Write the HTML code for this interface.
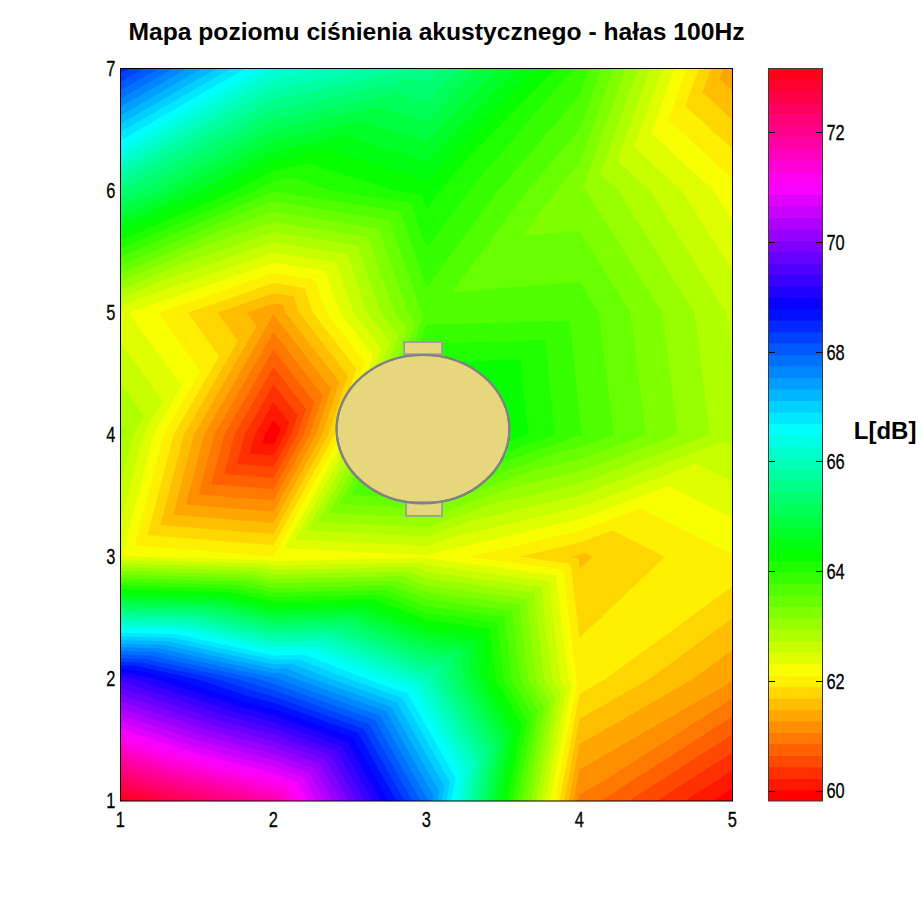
<!DOCTYPE html>
<html lang="pl">
<head>
<meta charset="utf-8">
<title>Mapa poziomu ciśnienia akustycznego - hałas 100Hz</title>
<style>
html,body{margin:0;padding:0;background:#fff;}
body{width:924px;height:900px;overflow:hidden;}
svg{display:block;}
text{font-family:"Liberation Sans",sans-serif;fill:#000;}
.tick{font-size:22.8px;stroke:#000;stroke-width:0.3px;}
.bold{font-weight:bold;font-size:23px;}
</style>
</head>
<body>
<svg width="924" height="900" viewBox="0 0 924 900">
<rect x="0" y="0" width="924" height="900" fill="#ffffff"/>
<text class="bold" x="128.5" y="39.7" textLength="616" lengthAdjust="spacingAndGlyphs">Mapa poziomu ciśnienia akustycznego - hałas 100Hz</text>
<rect x="120.5" y="68.5" width="612.0" height="732.5" fill="#ff0000"/>
<g fill-rule="evenodd" shape-rendering="geometricPrecision">
<path fill="#ff1800" d="M712.6,801.0L732.5,788.2L732.5,678.9L732.5,556.8L732.5,434.8L732.5,312.7L732.5,190.6L732.5,68.5L579.5,68.5L426.5,68.5L273.5,68.5L120.5,68.5L120.5,190.6L120.5,312.7L120.5,434.8L120.5,556.8L120.5,678.9L120.5,801.0L273.5,801.0L426.5,801.0L579.5,801.0ZM262.6,443.5L264.8,434.8L273.5,419.7L280.7,429.0L278.8,434.8L273.5,444.4Z"/>
<path fill="#ff3000" d="M684.6,801.0L732.5,770.3L732.5,678.9L732.5,556.8L732.5,434.8L732.5,312.7L732.5,190.6L732.5,68.5L579.5,68.5L426.5,68.5L273.5,68.5L120.5,68.5L120.5,190.6L120.5,312.7L120.5,434.8L120.5,556.8L120.5,678.9L120.5,801.0L273.5,801.0L426.5,801.0L579.5,801.0ZM249.8,453.7L254.7,434.8L273.5,402.2L289.1,422.3L285.0,434.8L273.5,455.6Z"/>
<path fill="#ff4800" d="M656.6,801.0L732.5,752.4L732.5,678.9L732.5,556.8L732.5,434.8L732.5,312.7L732.5,190.6L732.5,68.5L579.5,68.5L426.5,68.5L273.5,68.5L120.5,68.5L120.5,190.6L120.5,312.7L120.5,434.8L120.5,556.8L120.5,678.9L120.5,801.0L273.5,801.0L426.5,801.0L579.5,801.0ZM237.0,463.8L244.6,434.8L273.5,384.6L297.5,415.6L291.2,434.8L273.5,466.8Z"/>
<path fill="#ff6000" d="M628.6,801.0L732.5,734.4L732.5,678.9L732.5,556.8L732.5,434.8L732.5,312.7L732.5,190.6L732.5,68.5L579.5,68.5L426.5,68.5L273.5,68.5L120.5,68.5L120.5,190.6L120.5,312.7L120.5,434.8L120.5,556.8L120.5,678.9L120.5,801.0L273.5,801.0L426.5,801.0L579.5,801.0ZM224.3,474.0L234.4,434.8L273.5,367.0L305.9,408.9L297.4,434.8L273.5,478.0Z"/>
<path fill="#ff7800" d="M600.6,801.0L732.5,716.5L732.5,678.9L732.5,556.8L732.5,434.8L732.5,312.7L732.5,190.6L732.5,68.5L579.5,68.5L426.5,68.5L273.5,68.5L120.5,68.5L120.5,190.6L120.5,312.7L120.5,434.8L120.5,556.8L120.5,678.9L120.5,801.0L273.5,801.0L426.5,801.0L579.5,801.0ZM211.5,484.2L224.3,434.8L273.5,349.5L314.3,402.2L303.6,434.8L273.5,489.2Z"/>
<path fill="#ff8f00" d="M578.3,801.0L579.5,794.8L607.7,778.5L732.5,698.6L732.5,678.9L732.5,556.8L732.5,434.8L732.5,312.7L732.5,190.6L732.5,68.5L579.5,68.5L426.5,68.5L273.5,68.5L120.5,68.5L120.5,190.6L120.5,312.7L120.5,434.8L120.5,556.8L120.5,678.9L120.5,801.0L273.5,801.0L426.5,801.0ZM198.7,494.4L214.2,434.8L273.5,331.9L322.7,395.5L309.8,434.8L273.5,500.4Z"/>
<path fill="#ffa700" d="M573.6,801.0L579.5,769.6L721.7,687.6L732.5,680.6L732.5,678.9L732.5,556.8L732.5,434.8L732.5,312.7L732.5,190.6L732.5,68.5L579.5,68.5L426.5,68.5L273.5,68.5L120.5,68.5L120.5,190.6L120.5,312.7L120.5,434.8L120.5,556.8L120.5,678.9L120.5,801.0L273.5,801.0L426.5,801.0ZM186.0,504.6L204.0,434.8L273.5,314.3L331.1,388.8L316.0,434.8L273.5,511.7Z"/>
<path fill="#ffbf00" d="M568.9,801.0L579.5,744.3L692.9,678.9L732.5,650.1L732.5,556.8L732.5,434.8L732.5,312.7L732.5,190.6L732.5,90.8L719.5,78.9L723.2,68.5L579.5,68.5L426.5,68.5L273.5,68.5L120.5,68.5L120.5,190.6L120.5,312.7L120.5,434.8L120.5,556.8L120.5,678.9L120.5,801.0L273.5,801.0L426.5,801.0ZM173.2,514.8L193.9,434.8L256.5,326.2L246.8,312.7L273.5,303.4L283.1,305.0L285.8,312.7L339.5,382.1L322.2,434.8L273.5,522.9Z"/>
<path fill="#ffd700" d="M564.2,801.0L579.5,719.1L649.2,678.9L732.5,618.3L732.5,556.8L732.5,434.8L732.5,312.7L732.5,190.6L732.5,120.0L702.4,92.5L711.0,68.5L579.5,68.5L426.5,68.5L273.5,68.5L120.5,68.5L120.5,190.6L120.5,312.7L120.5,434.8L120.5,556.8L120.5,678.9L120.5,801.0L273.5,801.0L426.5,801.0ZM578.2,557.9L570.4,556.8L579.5,554.7L584.5,552.8L592.5,556.8L579.5,569.2ZM160.4,525.0L183.8,434.8L237.7,341.2L217.2,312.7L273.5,293.3L293.8,296.5L299.4,312.7L347.9,375.4L328.4,434.8L273.5,534.1Z"/>
<path fill="#ffef00" d="M559.5,801.0L579.5,693.9L605.5,678.9L732.5,586.4L732.5,556.8L732.5,434.8L732.5,312.7L732.5,190.6L732.5,149.3L685.4,106.1L698.9,68.5L579.5,68.5L426.5,68.5L273.5,68.5L120.5,68.5L120.5,190.6L120.5,312.7L120.5,434.8L120.5,556.8L120.5,678.9L120.5,801.0L273.5,801.0L426.5,801.0ZM570.8,563.8L519.8,556.8L579.5,542.8L612.5,530.5L665.0,556.8L579.5,638.0ZM147.7,535.1L173.6,434.8L219.0,356.2L187.7,312.7L273.5,283.1L304.4,288.0L313.0,312.7L356.3,368.7L334.6,434.8L273.5,545.3Z"/>
<path fill="#f7ff00" d="M554.8,801.0L577.3,680.7L576.2,678.9L563.5,569.6L469.1,556.8L579.5,530.9L640.5,508.2L732.5,554.3L732.5,434.8L732.5,312.7L732.5,190.6L732.5,178.6L668.3,119.7L686.7,68.5L579.5,68.5L426.5,68.5L273.5,68.5L120.5,68.5L120.5,190.6L120.5,312.7L120.5,434.8L120.5,556.8L120.5,678.9L120.5,801.0L273.5,801.0L426.5,801.0ZM134.9,545.3L163.5,434.8L200.2,371.2L158.1,312.7L273.5,272.9L315.0,279.5L326.5,312.7L364.7,362.0L340.8,434.8L273.5,556.5Z"/>
<path fill="#dfff00" d="M550.1,801.0L571.7,685.1L568.2,678.9L556.1,575.5L426.5,557.9L425.6,557.6L273.5,561.2L269.2,560.3L138.4,556.8L122.1,555.5L153.4,434.8L181.4,386.1L128.6,312.7L273.5,262.7L325.7,271.0L340.1,312.7L373.1,355.3L347.0,434.8L284.3,548.2L426.5,555.3L429.9,554.2L579.5,519.0L668.5,485.8L732.5,517.9L732.5,434.8L732.5,312.7L732.5,220.6L719.9,200.6L713.7,190.6L651.2,133.3L674.5,68.5L579.5,68.5L426.5,68.5L273.5,68.5L120.5,68.5L120.5,190.6L120.5,312.7L120.5,434.8L120.5,556.8L120.5,678.9L120.5,801.0L273.5,801.0L426.5,801.0Z"/>
<path fill="#c7ff00" d="M545.4,801.0L566.2,689.5L560.2,678.9L548.8,581.4L426.5,564.8L419.8,562.2L273.5,565.7L264.8,563.8L120.5,560.0L120.5,678.9L120.5,801.0L273.5,801.0L426.5,801.0ZM732.5,271.6L698.7,217.6L681.7,190.6L634.2,147.0L662.3,68.5L579.5,68.5L426.5,68.5L273.5,68.5L120.5,68.5L120.5,190.6L120.5,306.6L136.8,299.6L273.5,252.5L336.3,262.5L353.7,312.7L381.5,348.6L353.2,434.8L295.4,539.4L426.5,545.9L451.0,537.3L579.5,507.1L696.5,463.5L732.5,481.5L732.5,434.8L732.5,312.7ZM120.5,522.7L143.2,434.8L162.6,401.1L120.5,342.5L120.5,434.8Z"/>
<path fill="#afff00" d="M540.7,801.0L560.7,693.9L552.1,678.9L541.4,587.2L426.5,571.7L414.0,566.8L273.5,570.2L260.4,567.3L120.5,563.6L120.5,678.9L120.5,801.0L273.5,801.0L426.5,801.0ZM732.5,361.9L726.9,317.1L726.3,312.7L677.4,234.6L649.8,190.6L617.1,160.6L650.1,68.5L579.5,68.5L426.5,68.5L273.5,68.5L120.5,68.5L120.5,190.6L120.5,298.3L159.3,281.7L273.5,242.3L347.0,254.1L367.3,312.7L389.9,341.9L359.4,434.8L306.5,530.5L426.5,536.5L472.1,520.4L579.5,495.2L724.5,441.1L732.5,445.2L732.5,434.8ZM120.5,483.5L133.1,434.8L143.9,416.1L120.5,383.6L120.5,434.8Z"/>
<path fill="#97ff00" d="M536.0,801.0L555.1,698.4L544.1,678.9L534.1,593.1L426.5,578.5L408.2,571.4L273.5,574.6L256.0,570.8L120.5,567.3L120.5,678.9L120.5,801.0L273.5,801.0L426.5,801.0ZM120.5,290.0L181.8,263.8L273.5,232.1L357.6,245.6L380.9,312.7L398.3,335.2L365.6,434.8L317.5,521.7L426.5,527.2L493.3,503.6L579.5,483.3L709.7,434.8L697.9,340.3L694.4,312.7L656.1,251.5L617.9,190.6L600.0,174.2L638.0,68.5L579.5,68.5L426.5,68.5L273.5,68.5L120.5,68.5L120.5,190.6ZM120.5,444.3L123.0,434.8L125.1,431.1L120.5,424.7L120.5,434.8Z"/>
<path fill="#80ff00" d="M531.3,801.0L549.6,702.8L536.0,678.9L526.7,599.0L426.5,585.4L402.4,576.1L273.5,579.1L251.5,574.4L120.5,570.9L120.5,678.9L120.5,801.0L273.5,801.0L426.5,801.0ZM120.5,281.7L204.3,245.8L273.5,222.0L368.2,237.1L394.4,312.7L406.7,328.5L371.8,434.8L328.6,512.9L426.5,517.8L514.4,486.7L579.5,471.4L677.8,434.8L668.9,363.4L662.5,312.7L634.8,268.5L586.0,190.6L583.0,187.8L625.8,68.5L579.5,68.5L426.5,68.5L273.5,68.5L120.5,68.5L120.5,190.6Z"/>
<path fill="#68ff00" d="M526.6,801.0L544.1,707.2L528.0,678.9L519.4,604.8L426.5,592.2L396.6,580.7L273.5,583.6L247.1,577.9L120.5,574.6L120.5,678.9L120.5,801.0L273.5,801.0L426.5,801.0ZM120.5,273.5L226.7,227.9L273.5,211.8L378.9,228.6L408.0,312.7L415.1,321.8L378.0,434.8L339.7,504.0L426.5,508.4L535.5,469.8L579.5,459.5L645.9,434.8L639.9,386.6L630.6,312.7L613.6,285.5L579.5,231.1L523.0,235.6L556.4,190.6L579.5,163.5L613.6,68.5L579.5,68.5L426.5,68.5L273.5,68.5L120.5,68.5L120.5,190.6Z"/>
<path fill="#50ff00" d="M521.8,801.0L538.5,711.6L520.0,678.9L512.0,610.7L426.5,599.1L390.8,585.3L273.5,588.1L242.7,581.4L120.5,578.2L120.5,678.9L120.5,801.0L273.5,801.0L426.5,801.0ZM120.5,265.2L249.2,210.0L273.5,201.6L389.5,220.1L421.6,312.7L423.5,315.1L384.2,434.8L350.8,495.2L426.5,499.0L556.7,453.0L579.5,447.6L614.0,434.8L610.8,409.7L598.7,312.7L592.3,302.5L579.5,282.1L452.1,292.2L527.4,190.6L579.5,129.6L601.4,68.5L579.5,68.5L426.5,68.5L273.5,68.5L120.5,68.5L120.5,190.6Z"/>
<path fill="#38ff00" d="M517.1,801.0L533.0,716.0L511.9,678.9L504.6,616.6L426.5,606.0L385.0,589.9L273.5,592.6L238.3,584.9L120.5,581.8L120.5,678.9L120.5,801.0L273.5,801.0L426.5,801.0ZM120.5,256.9L271.7,192.0L273.5,191.4L400.1,211.6L426.5,287.6L498.4,190.6L579.5,95.6L589.2,68.5L579.5,68.5L426.5,68.5L273.5,68.5L120.5,68.5L120.5,190.6ZM426.5,489.6L577.8,436.1L579.5,435.7L582.1,434.8L581.8,432.9L579.5,414.3L569.7,320.5L426.5,324.7L390.4,434.8L361.9,486.3Z"/>
<path fill="#20ff00" d="M512.4,801.0L527.5,720.4L503.9,678.9L497.3,622.4L426.5,612.8L379.2,594.5L273.5,597.1L233.9,588.4L120.5,585.5L120.5,678.9L120.5,801.0L273.5,801.0L426.5,801.0ZM120.5,248.6L255.7,190.6L273.5,181.2L289.8,177.6L332.2,190.6L410.8,203.1L426.5,248.5L469.4,190.6L561.2,83.1L575.6,68.5L426.5,68.5L273.5,68.5L120.5,68.5L120.5,190.6ZM426.5,480.2L555.0,434.8L545.1,340.1L426.5,343.6L396.5,434.8L372.9,477.5Z"/>
<path fill="#08ff00" d="M507.7,801.0L521.9,724.8L495.9,678.9L489.9,628.3L426.5,619.7L373.5,599.2L273.5,601.5L229.5,592.0L120.5,589.1L120.5,678.9L120.5,801.0L273.5,801.0L426.5,801.0ZM120.5,240.3L236.4,190.6L273.5,171.0L307.5,163.4L396.0,190.6L421.4,194.6L426.5,209.3L440.3,190.6L470.0,155.9L556.3,68.5L426.5,68.5L273.5,68.5L120.5,68.5L120.5,190.6ZM426.5,470.8L528.4,434.8L520.6,359.7L426.5,362.4L402.7,434.8L384.0,468.6Z"/>
<path fill="#00ff10" d="M503.0,801.0L516.4,729.3L487.8,678.9L482.6,634.2L426.5,626.6L367.7,603.8L273.5,606.0L225.1,595.5L120.5,592.7L120.5,678.9L120.5,801.0L273.5,801.0L426.5,801.0ZM120.5,232.0L217.0,190.6L273.5,160.8L325.3,149.3L426.5,180.3L536.9,68.5L426.5,68.5L273.5,68.5L120.5,68.5L120.5,190.6ZM426.5,461.4L501.8,434.8L496.0,379.3L426.5,381.3L408.9,434.8L395.1,459.8Z"/>
<path fill="#00ff28" d="M498.3,801.0L510.9,733.7L479.8,678.9L475.2,640.0L426.5,633.4L361.9,608.4L273.5,610.5L220.6,599.0L120.5,596.4L120.5,678.9L120.5,801.0L273.5,801.0L426.5,801.0ZM120.5,223.7L197.7,190.6L273.5,150.7L343.0,135.1L426.5,160.8L517.6,68.5L426.5,68.5L273.5,68.5L120.5,68.5L120.5,190.6ZM426.5,452.0L475.2,434.8L471.5,398.8L426.5,400.2L415.1,434.8L406.2,451.0Z"/>
<path fill="#00ff40" d="M493.6,801.0L505.4,738.1L471.7,678.9L467.9,645.9L426.5,640.3L356.1,613.0L273.5,615.0L216.2,602.5L120.5,600.0L120.5,678.9L120.5,801.0L273.5,801.0L426.5,801.0ZM120.5,215.4L178.3,190.6L273.5,140.5L360.7,121.0L426.5,141.2L498.2,68.5L426.5,68.5L273.5,68.5L120.5,68.5L120.5,190.6ZM426.5,442.6L448.7,434.8L446.9,418.4L426.5,419.0L421.3,434.8L417.3,442.1Z"/>
<path fill="#00ff58" d="M488.9,801.0L499.8,742.5L463.7,678.9L460.5,651.8L426.5,647.2L350.3,617.6L273.5,619.5L211.8,606.1L120.5,603.7L120.5,678.9L120.5,801.0L273.5,801.0L426.5,801.0ZM120.5,207.1L159.0,190.6L273.5,130.3L378.5,106.8L426.5,121.6L478.9,68.5L426.5,68.5L273.5,68.5L120.5,68.5L120.5,190.6Z"/>
<path fill="#00ff70" d="M484.2,801.0L494.3,746.9L455.7,678.9L453.2,657.6L426.5,654.0L344.5,622.3L273.5,624.0L207.4,609.6L120.5,607.3L120.5,678.9L120.5,801.0L273.5,801.0L426.5,801.0ZM120.5,198.8L139.7,190.6L273.5,120.1L396.2,92.7L426.5,102.0L459.6,68.5L426.5,68.5L273.5,68.5L120.5,68.5L120.5,190.6Z"/>
<path fill="#00ff87" d="M479.5,801.0L488.8,751.3L447.6,678.9L445.8,663.5L426.5,660.9L338.7,626.9L273.5,628.5L203.0,613.1L120.5,610.9L120.5,678.9L120.5,801.0L273.5,801.0L426.5,801.0ZM120.5,190.5L120.9,190.3L273.5,109.9L413.9,78.5L426.5,82.4L440.2,68.5L426.5,68.5L273.5,68.5L120.5,68.5Z"/>
<path fill="#00ff9f" d="M474.8,801.0L483.2,755.7L439.6,678.9L438.5,669.4L426.5,667.7L332.9,631.5L273.5,632.9L198.6,616.6L120.5,614.6L120.5,678.9L120.5,801.0L273.5,801.0L426.5,801.0ZM120.5,182.2L158.4,160.3L273.5,99.7L413.2,68.5L273.5,68.5L120.5,68.5Z"/>
<path fill="#00ffb7" d="M470.1,801.0L477.7,760.1L431.5,678.9L431.1,675.2L426.5,674.6L327.1,636.1L273.5,637.4L194.2,620.1L120.5,618.2L120.5,678.9L120.5,801.0L273.5,801.0L426.5,801.0ZM120.5,173.8L196.0,130.4L273.5,89.5L367.7,68.5L273.5,68.5L120.5,68.5Z"/>
<path fill="#00ffcf" d="M465.4,801.0L472.2,764.6L426.5,684.2L424.4,680.6L419.9,678.9L321.3,640.8L273.5,641.9L189.7,623.7L120.5,621.8L120.5,678.9L120.5,801.0L273.5,801.0L426.5,801.0ZM120.5,165.5L233.5,100.4L273.5,79.4L322.1,68.5L273.5,68.5L120.5,68.5Z"/>
<path fill="#00ffe7" d="M460.7,801.0L466.6,769.0L426.5,698.3L418.9,684.9L402.2,678.9L315.5,645.4L273.5,646.4L185.3,627.2L120.5,625.5L120.5,678.9L120.5,801.0L273.5,801.0L426.5,801.0ZM120.5,157.1L271.1,70.5L273.5,69.2L276.5,68.5L273.5,68.5L120.5,68.5Z"/>
<path fill="#00ffff" d="M455.9,801.0L461.1,773.4L426.5,712.5L413.4,689.3L384.4,678.9L309.7,650.0L273.5,650.9L180.9,630.7L120.5,629.1L120.5,678.9L120.5,801.0L273.5,801.0L426.5,801.0ZM120.5,148.8L259.9,68.5L120.5,68.5Z"/>
<path fill="#00e7ff" d="M451.2,801.0L455.6,777.8L426.5,726.6L407.9,693.7L366.7,678.9L303.9,654.6L273.5,655.4L176.5,634.2L120.5,632.8L120.5,678.9L120.5,801.0L273.5,801.0L426.5,801.0ZM120.5,140.4L245.4,68.5L120.5,68.5Z"/>
<path fill="#00cfff" d="M446.5,801.0L450.0,782.2L426.5,740.8L402.4,698.1L349.0,678.9L298.2,659.2L273.5,659.8L172.1,637.8L120.5,636.4L120.5,678.9L120.5,801.0L273.5,801.0L426.5,801.0ZM120.5,132.1L230.9,68.5L120.5,68.5Z"/>
<path fill="#00b7ff" d="M441.8,801.0L444.5,786.6L426.5,754.9L396.9,702.5L331.2,678.9L292.4,663.9L273.5,664.3L167.7,641.3L120.5,640.0L120.5,678.9L120.5,801.0L273.5,801.0L426.5,801.0ZM120.5,123.7L216.4,68.5L120.5,68.5Z"/>
<path fill="#009fff" d="M437.1,801.0L439.0,791.0L426.5,769.1L391.4,706.9L313.5,678.9L286.6,668.5L273.5,668.8L163.3,644.8L120.5,643.7L120.5,678.9L120.5,801.0L273.5,801.0L426.5,801.0ZM120.5,115.4L201.9,68.5L120.5,68.5Z"/>
<path fill="#0087ff" d="M432.4,801.0L433.4,795.5L426.5,783.2L385.9,711.3L295.8,678.9L280.8,673.1L273.5,673.3L158.8,648.3L120.5,647.3L120.5,678.9L120.5,801.0L273.5,801.0L426.5,801.0ZM120.5,107.0L187.4,68.5L120.5,68.5Z"/>
<path fill="#0070ff" d="M427.7,801.0L427.9,799.9L426.5,797.4L380.4,715.7L278.0,678.9L275.0,677.7L273.5,677.8L154.4,651.8L120.5,651.0L120.5,678.9L120.5,801.0L273.5,801.0L426.5,801.0ZM120.5,98.7L172.9,68.5L120.5,68.5Z"/>
<path fill="#0058ff" d="M420.6,801.0L374.9,720.1L273.5,683.7L269.0,682.5L258.2,678.9L150.0,655.4L120.5,654.6L120.5,678.9L120.5,801.0L273.5,801.0ZM120.5,90.3L158.4,68.5L120.5,68.5Z"/>
<path fill="#0040ff" d="M412.6,801.0L369.4,724.5L273.5,690.0L263.0,687.3L237.6,678.9L145.6,658.9L120.5,658.2L120.5,678.9L120.5,801.0L273.5,801.0ZM120.5,82.0L143.9,68.5L120.5,68.5Z"/>
<path fill="#0028ff" d="M404.6,801.0L363.9,728.9L273.5,696.4L257.0,692.1L217.0,678.9L141.2,662.4L120.5,661.9L120.5,678.9L120.5,801.0L273.5,801.0ZM120.5,73.6L129.4,68.5L120.5,68.5Z"/>
<path fill="#0010ff" d="M396.6,801.0L358.4,733.2L273.5,702.8L251.0,696.9L196.4,678.9L136.8,665.9L120.5,665.5L120.5,678.9L120.5,801.0L273.5,801.0Z"/>
<path fill="#0800ff" d="M388.7,801.0L352.9,737.6L273.5,709.1L244.9,701.7L175.8,678.9L132.4,669.5L120.5,669.1L120.5,678.9L120.5,801.0L273.5,801.0Z"/>
<path fill="#2000ff" d="M380.7,801.0L347.4,742.0L273.5,715.5L238.9,706.5L155.2,678.9L127.9,673.0L120.5,672.8L120.5,678.9L120.5,801.0L273.5,801.0Z"/>
<path fill="#3800ff" d="M372.7,801.0L341.9,746.4L273.5,721.9L232.9,711.3L134.6,678.9L123.5,676.5L120.5,676.4L120.5,678.9L120.5,801.0L273.5,801.0Z"/>
<path fill="#5000ff" d="M364.7,801.0L336.4,750.8L273.5,728.2L226.9,716.1L120.5,681.0L120.5,801.0L273.5,801.0Z"/>
<path fill="#6800ff" d="M356.7,801.0L330.9,755.2L273.5,734.6L220.8,720.9L120.5,687.8L120.5,801.0L273.5,801.0Z"/>
<path fill="#8000ff" d="M348.8,801.0L325.4,759.6L273.5,741.0L214.8,725.7L120.5,694.6L120.5,801.0L273.5,801.0Z"/>
<path fill="#9700ff" d="M340.8,801.0L319.9,764.0L273.5,747.3L208.8,730.5L120.5,701.4L120.5,801.0L273.5,801.0Z"/>
<path fill="#af00ff" d="M332.8,801.0L314.4,768.4L273.5,753.7L202.8,735.3L120.5,708.2L120.5,801.0L273.5,801.0Z"/>
<path fill="#c700ff" d="M324.8,801.0L308.9,772.8L273.5,760.0L196.8,740.1L120.5,715.0L120.5,801.0L273.5,801.0Z"/>
<path fill="#df00ff" d="M316.8,801.0L303.4,777.1L273.5,766.4L190.7,745.0L120.5,721.8L120.5,801.0L273.5,801.0Z"/>
<path fill="#f700ff" d="M308.9,801.0L297.9,781.5L273.5,772.8L184.7,749.8L120.5,728.6L120.5,801.0L273.5,801.0Z"/>
<path fill="#ff00ef" d="M300.9,801.0L292.4,785.9L273.5,779.1L178.7,754.6L120.5,735.4L120.5,801.0L273.5,801.0Z"/>
<path fill="#ff00d7" d="M292.9,801.0L286.9,790.3L273.5,785.5L172.7,759.4L120.5,742.2L120.5,801.0L273.5,801.0Z"/>
<path fill="#ff00bf" d="M284.9,801.0L281.4,794.7L273.5,791.9L166.7,764.2L120.5,749.0L120.5,801.0L273.5,801.0Z"/>
<path fill="#ff00a7" d="M276.9,801.0L275.9,799.1L273.5,798.2L160.6,769.0L120.5,755.7L120.5,801.0L273.5,801.0Z"/>
<path fill="#ff008f" d="M259.6,801.0L154.6,773.8L120.5,762.5L120.5,801.0Z"/>
<path fill="#ff0078" d="M235.0,801.0L148.6,778.6L120.5,769.3L120.5,801.0Z"/>
<path fill="#ff0060" d="M210.5,801.0L142.6,783.4L120.5,776.1L120.5,801.0Z"/>
<path fill="#ff0048" d="M185.9,801.0L136.5,788.2L120.5,782.9L120.5,801.0Z"/>
<path fill="#ff0030" d="M161.4,801.0L130.5,793.0L120.5,789.7L120.5,801.0Z"/>
<path fill="#ff0018" d="M136.8,801.0L124.5,797.8L120.5,796.5L120.5,801.0Z"/>
</g>

<rect x="120.5" y="68.5" width="612" height="732.5" fill="none" stroke="#000" stroke-width="1"/>
<!-- object -->
<g>
<ellipse cx="423" cy="429.15" rx="86.4" ry="74.15" fill="#e6d77d" stroke="#828282" stroke-width="2.2"/>
<rect x="404.15" y="342.05" width="37.9" height="12.1" fill="#e6d77d" stroke="#9c98a6" stroke-width="1.7"/>
<rect x="406.05" y="502.05" width="36" height="13.8" fill="#e6d77d" stroke="#9c98a6" stroke-width="1.7"/>
<ellipse cx="423" cy="429.15" rx="86.4" ry="74.15" fill="none" stroke="#828282" stroke-width="2.2"/>
</g>
<!-- colorbar -->
<rect x="768.5" y="789.55" width="54.0" height="11.45" fill="#ff0000"/>
<rect x="768.5" y="778.11" width="54.0" height="12.05" fill="#ff1800"/>
<rect x="768.5" y="766.66" width="54.0" height="12.05" fill="#ff3000"/>
<rect x="768.5" y="755.22" width="54.0" height="12.05" fill="#ff4800"/>
<rect x="768.5" y="743.77" width="54.0" height="12.05" fill="#ff6000"/>
<rect x="768.5" y="732.33" width="54.0" height="12.05" fill="#ff7800"/>
<rect x="768.5" y="720.88" width="54.0" height="12.05" fill="#ff8f00"/>
<rect x="768.5" y="709.44" width="54.0" height="12.05" fill="#ffa700"/>
<rect x="768.5" y="697.99" width="54.0" height="12.05" fill="#ffbf00"/>
<rect x="768.5" y="686.55" width="54.0" height="12.05" fill="#ffd700"/>
<rect x="768.5" y="675.10" width="54.0" height="12.05" fill="#ffef00"/>
<rect x="768.5" y="663.66" width="54.0" height="12.05" fill="#f7ff00"/>
<rect x="768.5" y="652.21" width="54.0" height="12.05" fill="#dfff00"/>
<rect x="768.5" y="640.77" width="54.0" height="12.05" fill="#c7ff00"/>
<rect x="768.5" y="629.32" width="54.0" height="12.05" fill="#afff00"/>
<rect x="768.5" y="617.88" width="54.0" height="12.05" fill="#97ff00"/>
<rect x="768.5" y="606.43" width="54.0" height="12.05" fill="#80ff00"/>
<rect x="768.5" y="594.98" width="54.0" height="12.05" fill="#68ff00"/>
<rect x="768.5" y="583.54" width="54.0" height="12.05" fill="#50ff00"/>
<rect x="768.5" y="572.09" width="54.0" height="12.05" fill="#38ff00"/>
<rect x="768.5" y="560.65" width="54.0" height="12.05" fill="#20ff00"/>
<rect x="768.5" y="549.20" width="54.0" height="12.05" fill="#08ff00"/>
<rect x="768.5" y="537.76" width="54.0" height="12.05" fill="#00ff10"/>
<rect x="768.5" y="526.31" width="54.0" height="12.05" fill="#00ff28"/>
<rect x="768.5" y="514.87" width="54.0" height="12.05" fill="#00ff40"/>
<rect x="768.5" y="503.42" width="54.0" height="12.05" fill="#00ff58"/>
<rect x="768.5" y="491.98" width="54.0" height="12.05" fill="#00ff70"/>
<rect x="768.5" y="480.53" width="54.0" height="12.05" fill="#00ff87"/>
<rect x="768.5" y="469.09" width="54.0" height="12.05" fill="#00ff9f"/>
<rect x="768.5" y="457.64" width="54.0" height="12.05" fill="#00ffb7"/>
<rect x="768.5" y="446.20" width="54.0" height="12.05" fill="#00ffcf"/>
<rect x="768.5" y="434.75" width="54.0" height="12.05" fill="#00ffe7"/>
<rect x="768.5" y="423.30" width="54.0" height="12.05" fill="#00ffff"/>
<rect x="768.5" y="411.86" width="54.0" height="12.05" fill="#00e7ff"/>
<rect x="768.5" y="400.41" width="54.0" height="12.05" fill="#00cfff"/>
<rect x="768.5" y="388.97" width="54.0" height="12.05" fill="#00b7ff"/>
<rect x="768.5" y="377.52" width="54.0" height="12.05" fill="#009fff"/>
<rect x="768.5" y="366.08" width="54.0" height="12.05" fill="#0087ff"/>
<rect x="768.5" y="354.63" width="54.0" height="12.05" fill="#0070ff"/>
<rect x="768.5" y="343.19" width="54.0" height="12.05" fill="#0058ff"/>
<rect x="768.5" y="331.74" width="54.0" height="12.05" fill="#0040ff"/>
<rect x="768.5" y="320.30" width="54.0" height="12.05" fill="#0028ff"/>
<rect x="768.5" y="308.85" width="54.0" height="12.05" fill="#0010ff"/>
<rect x="768.5" y="297.41" width="54.0" height="12.05" fill="#0800ff"/>
<rect x="768.5" y="285.96" width="54.0" height="12.05" fill="#2000ff"/>
<rect x="768.5" y="274.52" width="54.0" height="12.05" fill="#3800ff"/>
<rect x="768.5" y="263.07" width="54.0" height="12.05" fill="#5000ff"/>
<rect x="768.5" y="251.62" width="54.0" height="12.05" fill="#6800ff"/>
<rect x="768.5" y="240.18" width="54.0" height="12.05" fill="#8000ff"/>
<rect x="768.5" y="228.73" width="54.0" height="12.05" fill="#9700ff"/>
<rect x="768.5" y="217.29" width="54.0" height="12.05" fill="#af00ff"/>
<rect x="768.5" y="205.84" width="54.0" height="12.05" fill="#c700ff"/>
<rect x="768.5" y="194.40" width="54.0" height="12.05" fill="#df00ff"/>
<rect x="768.5" y="182.95" width="54.0" height="12.05" fill="#f700ff"/>
<rect x="768.5" y="171.51" width="54.0" height="12.05" fill="#ff00ef"/>
<rect x="768.5" y="160.06" width="54.0" height="12.05" fill="#ff00d7"/>
<rect x="768.5" y="148.62" width="54.0" height="12.05" fill="#ff00bf"/>
<rect x="768.5" y="137.17" width="54.0" height="12.05" fill="#ff00a7"/>
<rect x="768.5" y="125.73" width="54.0" height="12.05" fill="#ff008f"/>
<rect x="768.5" y="114.28" width="54.0" height="12.05" fill="#ff0078"/>
<rect x="768.5" y="102.84" width="54.0" height="12.05" fill="#ff0060"/>
<rect x="768.5" y="91.39" width="54.0" height="12.05" fill="#ff0048"/>
<rect x="768.5" y="79.95" width="54.0" height="12.05" fill="#ff0030"/>
<rect x="768.5" y="68.50" width="54.0" height="12.05" fill="#ff0018"/>
<rect x="768.5" y="68.5" width="54" height="732.5" fill="none" stroke="#3a3a3a" stroke-width="1"/>
<g stroke="#000" stroke-width="1">
<path d="M769 132.5h6M816 132.5h6M769 242.5h6M816 242.5h6M769 352.5h6M816 352.5h6M769 461.5h6M816 461.5h6M769 571.5h6M816 571.5h6M769 681.5h6M816 681.5h6M769 791.5h6M816 791.5h6"/>
</g>
<g class="tick">
<text transform="translate(826.4,140.0) scale(0.72,1)" text-anchor="start">72</text>
<text transform="translate(826.4,249.7) scale(0.72,1)" text-anchor="start">70</text>
<text transform="translate(826.4,359.5) scale(0.72,1)" text-anchor="start">68</text>
<text transform="translate(826.4,469.2) scale(0.72,1)" text-anchor="start">66</text>
<text transform="translate(826.4,578.9) scale(0.72,1)" text-anchor="start">64</text>
<text transform="translate(826.4,688.7) scale(0.72,1)" text-anchor="start">62</text>
<text transform="translate(826.4,798.4) scale(0.72,1)" text-anchor="start">60</text>
</g>
<text class="bold" x="853.8" y="439" textLength="62.6" lengthAdjust="spacingAndGlyphs">L[dB]</text>
<!-- y tick labels -->
<g class="tick">
<text transform="translate(115.4,808.3) scale(0.72,1)" text-anchor="end">1</text>
<text transform="translate(115.4,686.2) scale(0.72,1)" text-anchor="end">2</text>
<text transform="translate(115.4,564.1) scale(0.72,1)" text-anchor="end">3</text>
<text transform="translate(115.4,442.1) scale(0.72,1)" text-anchor="end">4</text>
<text transform="translate(115.4,320.0) scale(0.72,1)" text-anchor="end">5</text>
<text transform="translate(115.4,197.9) scale(0.72,1)" text-anchor="end">6</text>
<text transform="translate(115.4,75.8) scale(0.72,1)" text-anchor="end">7</text>
</g>
<!-- x tick labels -->
<g class="tick">
<text transform="translate(120.2,826.8) scale(0.72,1)" text-anchor="middle">1</text>
<text transform="translate(273.2,826.8) scale(0.72,1)" text-anchor="middle">2</text>
<text transform="translate(426.2,826.8) scale(0.72,1)" text-anchor="middle">3</text>
<text transform="translate(579.2,826.8) scale(0.72,1)" text-anchor="middle">4</text>
<text transform="translate(732.2,826.8) scale(0.72,1)" text-anchor="middle">5</text>
</g>
</svg>
</body>
</html>
